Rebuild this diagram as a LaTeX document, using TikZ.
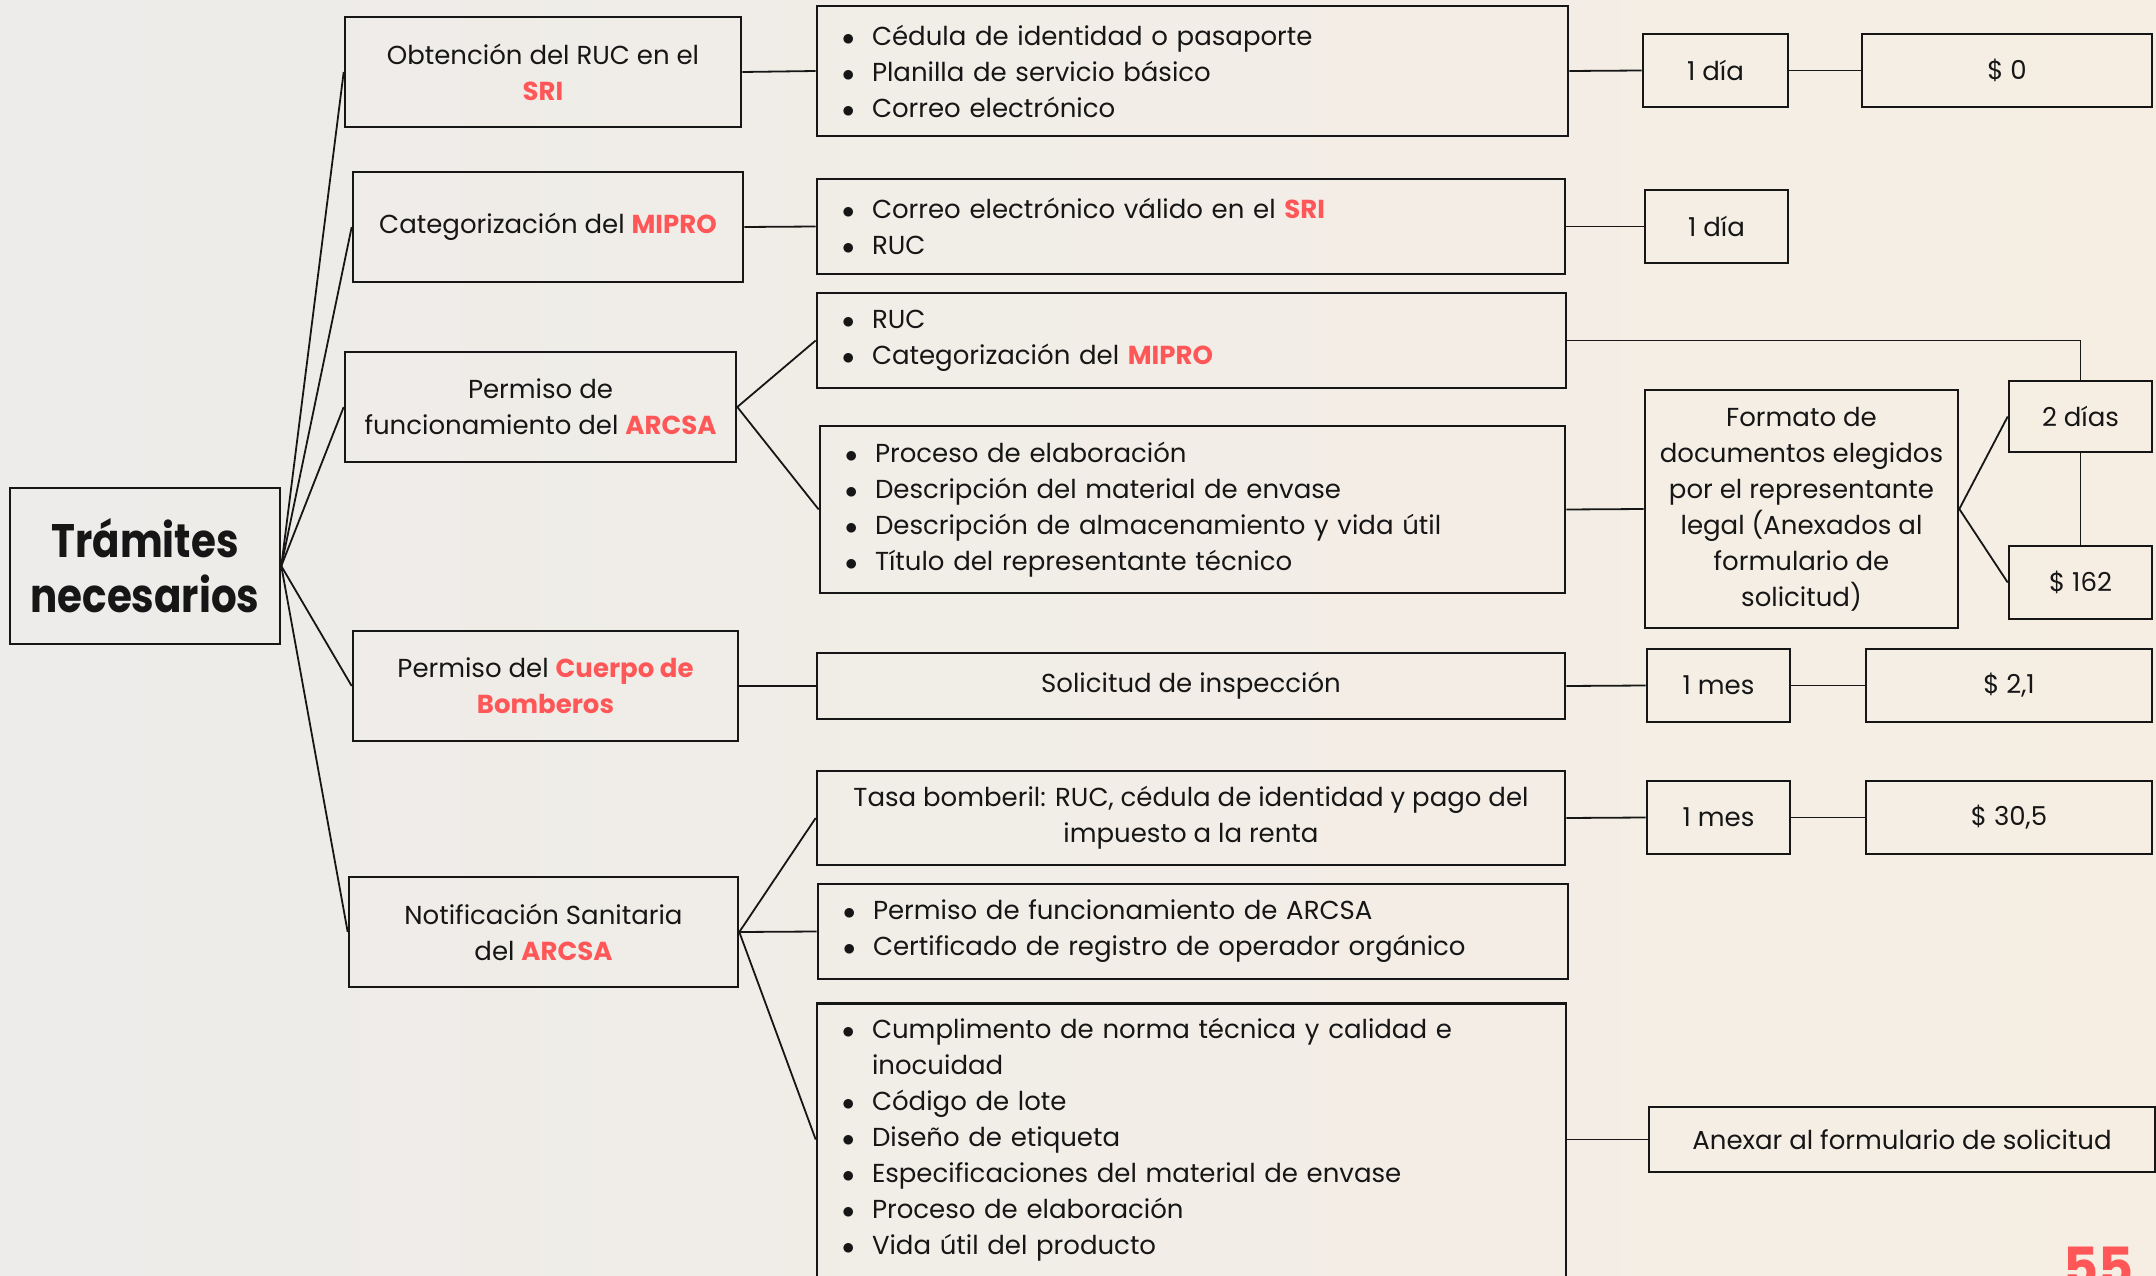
\documentclass[tikz,border=0pt]{standalone}
\usepackage{fontspec}
\setmainfont{Poppins}
\newfontfamily\tpTitleFont[FakeStretch=0.86]{Poppins}
\usepackage{xcolor}
\usepackage{tikz}
\usetikzlibrary{positioning}
\definecolor{tpRed}{RGB}{255,87,87}
\definecolor{tpInk}{RGB}{22,22,22}
\definecolor{tpBgL}{RGB}{237,236,234}
\definecolor{tpBgR}{RGB}{246,238,227}
\newcommand{\hlred}[1]{\textbf{\textcolor{tpRed}{#1}}}
\newcommand{\itm}[1]{\makebox[30pt][l]{$\bullet$}#1}

\begin{document}
\begin{tikzpicture}[
  x=1pt, y=-1pt,
  font=\fontsize{26}{36}\selectfont, text=tpInk,
  box/.style={draw=tpInk, line width=2.6pt, inner sep=0pt, align=center},
  bullets/.style={draw=tpInk, line width=2.6pt, inner xsep=25pt, inner ysep=0pt, align=left},
  link/.style={draw=tpInk, line width=1.8pt},
  ttl/.style={font=\tpTitleFont\bfseries\fontsize{47}{55}\selectfont}
]
\useasboundingbox (0,0) rectangle (2156,1276);
\clip (0,0) rectangle (2156,1276);
\shade[left color=tpBgL, right color=tpBgR] (0,0) rectangle (2156,1276);

%============ ROOT ============
\node[box, ttl, minimum width=270, minimum height=156] (tt) at (145,566) {Trámites\\ necesarios};

%============ TRAMITES ============
\node[box, minimum width=396, minimum height=110] (b1) at (543,72) {Obtención del RUC en el\\ \hlred{SRI}};
\node[box, minimum width=390, minimum height=110] (b2) at (548,227) {Categorización del \hlred{MIPRO}};
\node[box, minimum width=391, minimum height=110] (b3) at (540.5,407) {Permiso de\\ funcionamiento del \hlred{ARCSA}};
\node[box, minimum width=385, minimum height=110] (b4) at (545.5,686) {Permiso del \hlred{Cuerpo de}\\ \hlred{Bomberos}};
\node[box, minimum width=389, minimum height=110] (b5) at (543.5,932) {Notificación Sanitaria\\ del \hlred{ARCSA}};

%============ REQUISITOS ============
\node[bullets, text width=701, minimum height=130] (m1) at (1192.5,71)
  {\itm{Cédula de identidad o pasaporte}\\ \itm{Planilla de servicio básico}\\ \itm{Correo electrónico}};
\node[bullets, text width=698, minimum height=95] (m2) at (1191,226.5)
  {\itm{Correo electrónico válido en el \hlred{SRI}}\\ \itm{RUC}};
\node[bullets, text width=699, minimum height=95] (m3) at (1191.5,340.5)
  {\itm{RUC}\\ \itm{Categorización del \hlred{MIPRO}}};
\node[bullets, text width=695, minimum height=167] (m4) at (1192.5,509.5)
  {\itm{Proceso de elaboración}\\ \itm{Descripción del material de envase}\\
   \itm{Descripción de almacenamiento y vida útil}\\ \itm{Título del representante técnico}};
\node[box, minimum width=748, minimum height=66] (m5) at (1191,686) {Solicitud de inspección};
\node[box, minimum width=748, minimum height=94] (m6) at (1191,818)
  {Tasa bomberil: RUC, cédula de identidad y pago del\\ impuesto a la renta};
\node[bullets, text width=700, minimum height=95] (m7) at (1193,931.5)
  {\itm{Permiso de funcionamiento de ARCSA}\\ \itm{Certificado de registro de operador orgánico}};
% box runs past the page
\node[bullets, text width=699, inner ysep=15pt, text depth=300pt, anchor=north] (m8) at (1191.5,1002)
  {\itm{Cumplimento de norma técnica y calidad e}\\ \hspace*{30pt}inocuidad\\ \itm{Código de lote}\\
   \itm{Diseño de etiqueta}\\ \itm{Especificaciones del material de envase}\\
   \itm{Proceso de elaboración}\\ \itm{Vida útil del producto}};

%============ TIEMPO Y COSTO ============
\node[box, minimum width=145, minimum height=73] (r1) at (1715.5,70.5) {1 día};
\node[box, minimum width=290, minimum height=73] (r1b) at (2007,70.5) {\$ 0};
\node[box, minimum width=143, minimum height=73] (r2) at (1716.5,226.5) {1 día};
\node[box, minimum width=313, minimum height=238] (ff) at (1801.5,509)
  {Formato de\\ documentos elegidos\\ por el representante\\ legal (Anexados al\\ formulario de\\ solicitud)};
\node[box, minimum width=143, minimum height=71] (dd) at (2080.5,416.5) {2 días};
\node[box, minimum width=143, minimum height=73] (pp) at (2080.5,582.5) {\$ 162};
\node[box, minimum width=143, minimum height=73] (r5) at (1718.5,685.5) {1 mes};
\node[box, minimum width=286, minimum height=73] (r5b) at (2009,685.5) {\$ 2,1};
\node[box, minimum width=143, minimum height=73] (r6) at (1718.5,817.5) {1 mes};
\node[box, minimum width=286, minimum height=73] (r6b) at (2009,817.5) {\$ 30,5};
\node[box, minimum width=506, minimum height=65] (aa) at (1902,1139.5) {Anexar al formulario de solicitud};

% page number
\node[anchor=north west, inner sep=0pt, text=tpRed, font=\bfseries\fontsize{54}{54}\selectfont] (pg) at (2063,1247) {55};

%============ LINKS ============
\foreach \n in {b1,b2,b3,b4,b5}
  \draw[link] (tt.east) -- (\n.west);
\draw[link] (b1.east) -- (m1.west);
\draw[link] (b2.east) -- (m2.west);
\draw[link] (b3.east) -- (m3.west);
\draw[link] (b3.east) -- (m4.west);
\draw[link] (b4.east) -- (m5.west);
\draw[link] (b5.east) -- (m6.west);
\draw[link] (b5.east) -- (m7.west);
\draw[link] (b5.east) -- (m8.west |- aa.west);
\draw[link] (m1.east) -- (r1.west);
\draw[link] (r1.east) -- (r1b.west);
\draw[link] (m2.east) -- (r2.west);
\draw[link] (m3.east) -| (dd.north);
\draw[link] (m4.east) -- (ff.west);
\draw[link] (ff.east) -- (dd.west);
\draw[link] (ff.east) -- (pp.west);
\draw[link] (dd.south) -- (pp.north);
\draw[link] (m5.east) -- (r5.west);
\draw[link] (r5.east) -- (r5b.west);
\draw[link] (m6.east) -- (r6.west);
\draw[link] (r6.east) -- (r6b.west);
\draw[link] (m8.east |- aa.west) -- (aa.west);
\end{tikzpicture}
\end{document}
